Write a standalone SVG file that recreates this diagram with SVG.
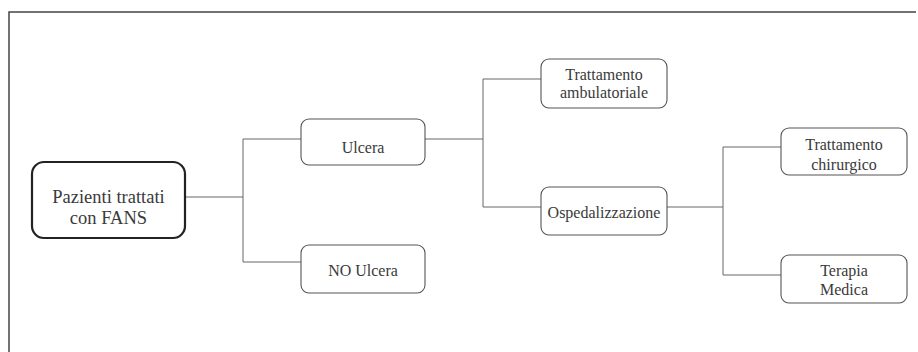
<svg xmlns="http://www.w3.org/2000/svg" width="918" height="352" viewBox="0 0 918 352">
  <style>
    .frame { fill: none; stroke: #444; stroke-width: 1.5; }
    .box { fill: #fff; stroke: #555; stroke-width: 1.1; }
    .root { fill: #fff; stroke: #222; stroke-width: 2.2; }
    .link { fill: none; stroke: #666; stroke-width: 1; }
    text { font-family: "Liberation Serif", "Times New Roman", serif; fill: #3a3a3a; text-anchor: middle; }
    .lbl { font-size: 16px; }
    .big { font-size: 18.5px; }
  </style>
  <rect width="918" height="352" fill="#fff"/>

  <!-- outer frame (top and left edges) -->
  <path class="frame" d="M9,352 V12 H916"/>

  <!-- tree connectors -->
  <g id="connectors">
    <path class="link" d="M185,197 H243"/>
    <path class="link" d="M243,139 V262"/>
    <path class="link" d="M243,139 H301"/>
    <path class="link" d="M243,262 H301"/>
    <path class="link" d="M425,139 H483"/>
    <path class="link" d="M483,79 V207"/>
    <path class="link" d="M483,79 H541"/>
    <path class="link" d="M483,207 H541"/>
    <path class="link" d="M667,207 H723"/>
    <path class="link" d="M723,147 V275"/>
    <path class="link" d="M723,147 H781"/>
    <path class="link" d="M723,275 H781"/>
  </g>

  <g id="pazienti">
    <rect class="root" x="32" y="162" width="153" height="76" rx="12"/>
    <text class="big" x="108.5" y="203">Pazienti trattati</text>
    <text class="big" x="108.5" y="224">con FANS</text>
  </g>

  <g id="ulcera">
    <rect class="box" x="301" y="119" width="124" height="46" rx="8"/>
    <text class="lbl" x="363" y="153">Ulcera</text>
  </g>

  <g id="no-ulcera">
    <rect class="box" x="301" y="245" width="124" height="48" rx="8"/>
    <text class="lbl" x="363" y="276">NO Ulcera</text>
  </g>

  <g id="ambulatoriale">
    <rect class="box" x="541" y="59" width="126" height="49" rx="8"/>
    <text class="lbl" x="604" y="80">Trattamento</text>
    <text class="lbl" x="604" y="98">ambulatoriale</text>
  </g>

  <g id="ospedalizzazione">
    <rect class="box" x="541" y="187" width="126" height="48" rx="8"/>
    <text class="lbl" x="604" y="218">Ospedalizzazione</text>
  </g>

  <g id="chirurgico">
    <rect class="box" x="781" y="128" width="126" height="47" rx="8"/>
    <text class="lbl" x="844" y="150">Trattamento</text>
    <text class="lbl" x="844" y="170">chirurgico</text>
  </g>

  <g id="terapia-medica">
    <rect class="box" x="781" y="255" width="126" height="48" rx="8"/>
    <text class="lbl" x="844" y="276">Terapia</text>
    <text class="lbl" x="844" y="295">Medica</text>
  </g>
</svg>
